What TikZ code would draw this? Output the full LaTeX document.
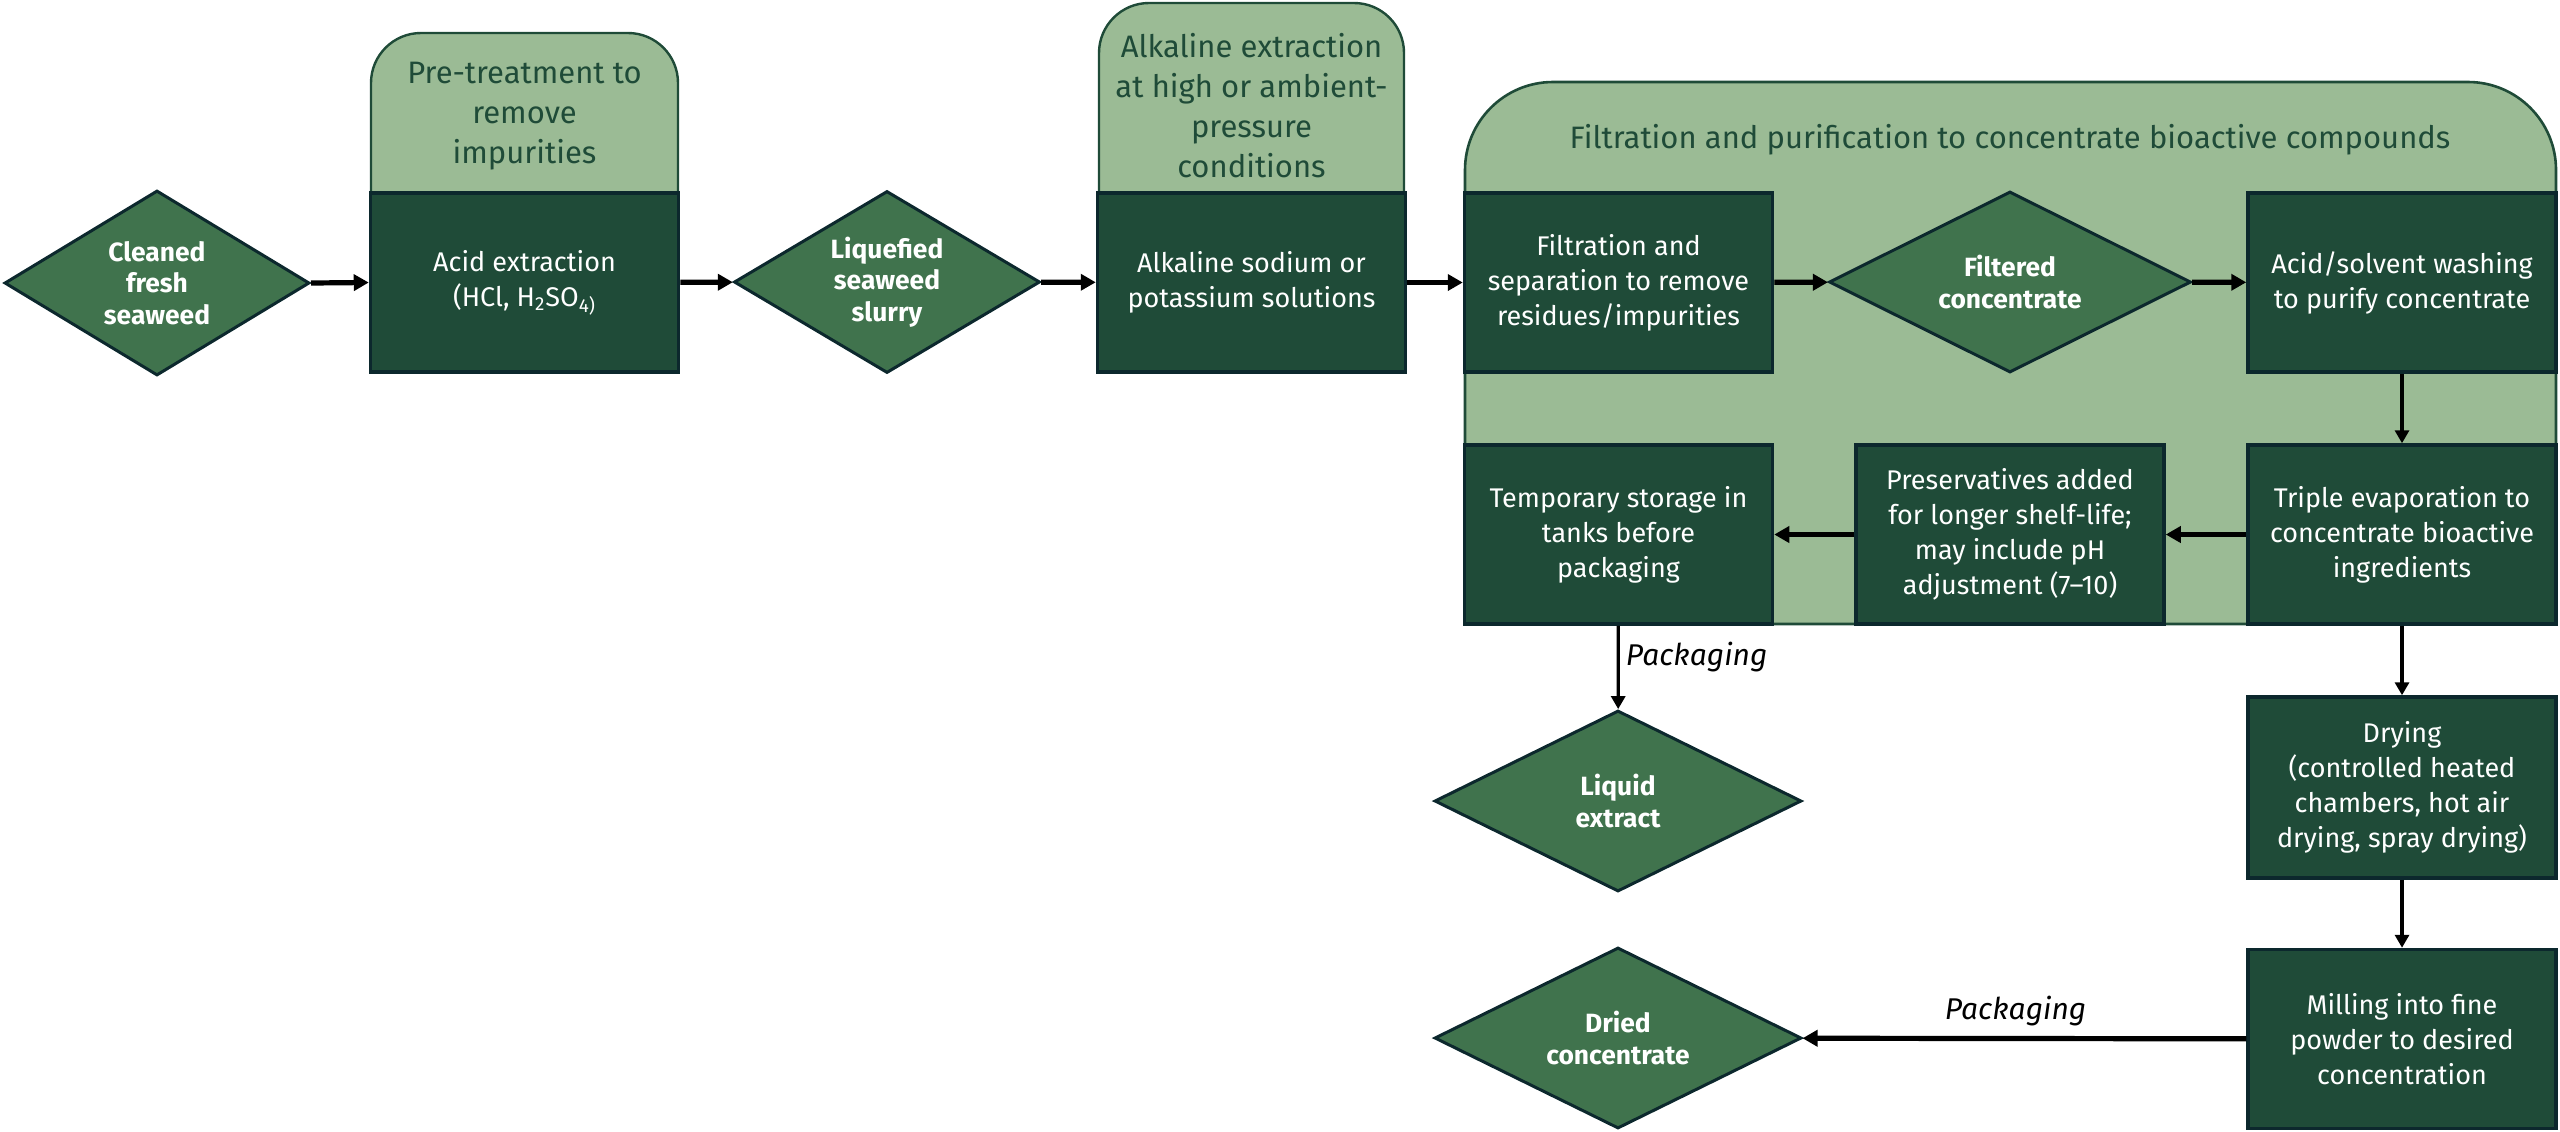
\documentclass[tikz,border=0pt]{standalone}
\usepackage{fontspec}
\setmainfont{Fira Sans}
\usetikzlibrary{shapes.geometric,arrows.meta}
\definecolor{boxfill}{RGB}{31,75,56}
\definecolor{bordercol}{RGB}{12,40,45}
\definecolor{diafill}{RGB}{64,115,77}
\definecolor{lightgreen}{RGB}{155,187,149}
\definecolor{titlegreen}{RGB}{31,75,56}
\begin{document}
\begin{tikzpicture}[x=0.5pt,y=0.5pt,
  box/.style={draw=bordercol, line width=1.75pt, fill=boxfill, text=white, align=center,
    minimum width=154pt, minimum height=89.5pt, inner sep=2pt,
    font=\fontsize{13.5}{17.5}\selectfont},
  dia/.style={diamond, aspect=1.7, draw=bordercol, line width=1.5pt, fill=diafill,
    text=white, align=center, inner sep=0pt, font=\bfseries\fontsize{13.2}{15.8}\selectfont},
  hdr/.style={fill=lightgreen, draw=titlegreen, line width=1.2pt, rounded corners=25pt},
  grp/.style={fill=lightgreen, draw=titlegreen, line width=1.3pt, rounded corners=44pt},
  hdrtext/.style={text=titlegreen, align=center, inner sep=0pt,
    font=\fontsize{15.5}{20}\selectfont},
  thick arrow/.style={line width=2.6pt, -{Triangle[length=7.5pt,width=8pt]}},
  thin arrow/.style={line width=1.6pt, -{Triangle[length=6.5pt,width=7pt]}},
  lbl/.style={font=\itshape\fontsize{15}{18}\selectfont, inner sep=3pt}
]
\useasboundingbox (0,0) rectangle (2560,-1131);

% backgrounds
\draw[hdr] (371,-260) rectangle (678,-33);
\draw[hdr] (1099,-260) rectangle (1404,-3);
\draw[grp] (1465,-624) rectangle (2556,-82);

\node[hdrtext] (h1) at (524.5,-116) {Pre-treatment to\\remove\\impurities};
\node[hdrtext] (h2) at (1251.5,-106) {Alkaline extraction\\at high or ambient-\\pressure\\conditions};
\node[hdrtext] (gt) at (2010,-140) {Filtration and purification to concentrate bioactive compounds};

% nodes
\node[dia, minimum width=152.5pt, minimum height=92.5pt] (d1) at (157,-283) {Cleaned\\fresh\\seaweed};
\node[box] (acid) at (524.5,-282.5) {Acid extraction\\(HCl, H\textsubscript{2}SO\textsubscript{4)}};
\node[dia, minimum width=153pt, minimum height=91pt] (d2) at (887,-282) {Liquefied\\seaweed\\slurry};
\node[box] (alk) at (1251.5,-282.5) {Alkaline sodium or\\potassium solutions};
\node[box] (filt) at (1618.5,-282.5) {Filtration and\\separation to remove\\residues/impurities};
\node[dia, minimum width=181pt, minimum height=90.5pt] (d3) at (2010,-282) {Filtered\\concentrate};
\node[box] (wash) at (2402,-282.5) {Acid/solvent washing\\to purify concentrate};
\node[box] (temp) at (1618.5,-534.5) {Temporary storage in\\tanks before\\packaging};
\node[box] (pres) at (2010,-534.5) {Preservatives added\\for longer shelf-life;\\may include pH\\adjustment (7–10)};
\node[box] (triple) at (2402,-534.5) {Triple evaporation to\\concentrate bioactive\\ingredients};
\node[box, minimum height=90.5pt] (dry) at (2402,-787.5) {Drying\\(controlled heated\\chambers, hot air\\drying, spray drying)};
\node[box] (mill) at (2402,-1039) {Milling into fine\\powder to desired\\concentration};
\node[dia, minimum width=183.5pt, minimum height=90.5pt] (d4) at (1618,-801) {Liquid\\extract};
\node[dia, minimum width=183.5pt, minimum height=90.5pt] (d5) at (1618,-1038) {Dried\\concentrate};

% connectors
\draw[thick arrow] (d1.east) -- (acid.west);
\draw[thick arrow] (acid) -- (d2);
\draw[thick arrow] (d2) -- (alk);
\draw[thick arrow] (alk) -- (filt);
\draw[thick arrow] (filt) -- (d3);
\draw[thick arrow] (d3) -- (wash);
\draw[thin arrow] (wash) -- (triple);
\draw[thick arrow] (triple) -- (pres);
\draw[thick arrow] (pres) -- (temp);
\draw[thin arrow] (temp) -- node[lbl, anchor=west, pos=0.38] {Packaging} (d4);
\draw[thin arrow] (triple) -- (dry);
\draw[thin arrow] (dry) -- (mill);
\draw[thick arrow] (mill) -- node[lbl, above, pos=0.52, yshift=2pt] {Packaging} (d5);
\end{tikzpicture}
\end{document}
